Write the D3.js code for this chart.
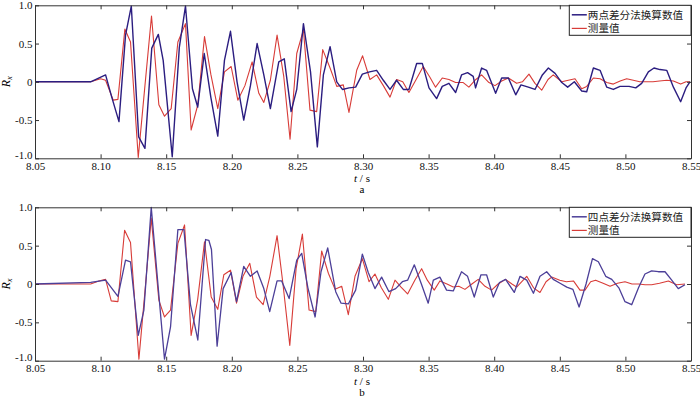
<!DOCTYPE html>
<html><head><meta charset="utf-8">
<script src="https://cdn.jsdelivr.net/npm/d3@7"></script>
<style>body{margin:0;background:#fff}svg{display:block}</style>
</head><body>
<script>
// ---- data ----
const xTicks = [8.05,8.10,8.15,8.20,8.25,8.30,8.35,8.40,8.45,8.50,8.55];
const xTickLabels = ["8.05","8.10","8.15","8.20","8.25","8.30","8.35","8.40","8.45","8.50","8.55"];
const yTicks = [-1,-0.5,0,0.5,1];
const yTickLabels = ["-1.0","-0.5","0","0.5","1.0"];
const legendA = ["两点差分法换算数值","测量值"];
const legendB = ["四点差分法换算数值","测量值"];
const panelLabels = ["a","b"];

// panel a: two-point difference (t, value)
const aCalcT = [8.05,8.0924,8.1038,8.1085,8.114,8.119,8.1234,8.129,8.1338,8.139,8.144,8.1477,8.1546,8.16,8.1647,8.17,8.174,8.179,8.184,8.1893,8.1944,8.199,8.204,8.2091,8.2142,8.2193,8.2244,8.2294,8.2358,8.240,8.2452,8.2495,8.2546,8.26,8.2652,8.2698,8.2749,8.28,8.2843,8.2894,8.2944,8.2995,8.305,8.3104,8.3155,8.3206,8.3256,8.3307,8.335,8.3409,8.3452,8.3503,8.3561,8.3604,8.3655,8.3706,8.3751,8.3797,8.384,8.3858,8.3904,8.3942,8.4011,8.4057,8.4108,8.4164,8.4204,8.426,8.4311,8.4367,8.4413,8.4464,8.4515,8.456,8.4611,8.4667,8.4705,8.4756,8.4807,8.4858,8.4908,8.4959,8.5028,8.5079,8.5124,8.5175,8.5218,8.5264,8.5315,8.5366,8.5421,8.5462,8.5492];
const aCalcV = [0,0,0.09,-0.2,-0.52,0.61,0.99,-0.72,-0.87,0.44,0.62,0.28,-0.98,0.45,0.99,-0.09,-0.33,0.37,-0.2,-0.71,0.28,0.66,0.0,-0.5,-0.05,0.5,0.09,-0.35,0.26,0.3,-0.39,-0.1,0.76,0.13,-0.85,0.09,0.46,0.0,-0.1,-0.08,-0.07,0.1,0.13,0.15,0.02,-0.1,0.02,-0.1,-0.1,0.24,0.24,-0.08,-0.22,-0.06,-0.02,-0.14,0.09,0.12,0.07,-0.08,0.18,0.15,-0.15,0.05,0.05,-0.17,-0.04,-0.07,-0.1,0.09,0.18,0.11,-0.01,-0.07,0.0,-0.12,-0.13,0.18,0.15,-0.07,-0.1,-0.06,-0.06,-0.08,-0.02,0.13,0.18,0.16,0.15,-0.07,-0.26,-0.08,0.0];
const aMeasT = [8.05,8.0924,8.10,8.1038,8.1096,8.1132,8.1185,8.1228,8.1287,8.1338,8.1388,8.1444,8.1487,8.1538,8.1589,8.1647,8.169,8.1741,8.1792,8.184,8.1893,8.1944,8.1995,8.2046,8.21,8.2155,8.2206,8.2244,8.2294,8.2345,8.2396,8.2444,8.2495,8.2546,8.2596,8.2647,8.2693,8.2749,8.28,8.285,8.2893,8.2952,8.2997,8.3053,8.3104,8.3155,8.3206,8.3256,8.3303,8.335,8.3405,8.3459,8.351,8.3553,8.3604,8.3655,8.3706,8.3764,8.3807,8.3853,8.3904,8.396,8.4006,8.4057,8.4108,8.4171,8.4215,8.4265,8.4311,8.4362,8.441,8.445,8.4515,8.4565,8.4616,8.4667,8.4705,8.4756,8.4807,8.4858,8.4908,8.496,8.501,8.506,8.511,8.5162,8.521,8.526,8.5315,8.5366,8.5421,8.5462,8.5492];
const aMeasV = [0,0,0.04,0.02,-0.24,-0.23,0.69,0.52,-0.99,-0.05,0.86,-0.30,-0.45,-0.35,0.52,0.76,-0.63,-0.3,0.59,0.1,-0.35,0.13,0.2,-0.24,-0.05,0.26,-0.15,-0.27,0.02,0.61,0.07,-0.75,0.37,0.68,-0.37,-0.39,0.42,0.18,-0.06,-0.04,-0.4,0.15,0.34,0.03,0.09,-0.05,-0.2,0.03,0.0,-0.14,0.03,0.2,0.06,-0.07,0.05,0.03,-0.01,-0.01,-0.07,0.02,0.09,-0.01,-0.05,0.01,0.05,-0.02,0.0,0.1,-0.02,-0.11,0.03,0.09,0.0,0.02,0.04,-0.09,-0.06,0.05,0.04,-0.01,-0.03,0.01,0.04,0.02,0.0,0.0,0.0,0.01,0.02,0.01,-0.03,0.0,0.0];

// panel b: four-point difference (t, value)
const bCalcT = [8.05,8.0924,8.1038,8.1132,8.119,8.1228,8.1287,8.133,8.1386,8.1444,8.1487,8.1533,8.1589,8.1635,8.1685,8.1741,8.18,8.1825,8.1845,8.1888,8.1934,8.1995,8.2036,8.2091,8.2142,8.2193,8.2244,8.2289,8.2345,8.238,8.2437,8.2495,8.2533,8.258,8.2635,8.268,8.2731,8.2792,8.2833,8.2888,8.2944,8.2995,8.304,8.3091,8.3142,8.3198,8.3249,8.33,8.334,8.3391,8.3445,8.3497,8.3536,8.3586,8.3637,8.3688,8.3751,8.3797,8.3848,8.3899,8.3942,8.3993,8.404,8.4087,8.4153,8.4197,8.4248,8.4299,8.4349,8.44,8.445,8.4502,8.4553,8.46,8.4647,8.47,8.4749,8.4794,8.485,8.4896,8.495,8.4997,8.5048,8.51,8.5149,8.52,8.5251,8.5302,8.5353,8.5403,8.5454];
const bCalcV = [0,0.02,0.05,-0.16,0.31,0.29,-0.67,-0.34,1.0,-0.14,-0.98,-0.56,0.71,0.71,-0.27,-0.73,0.58,0.57,0.45,-0.81,-0.06,0.15,-0.23,0.23,0.1,0.17,-0.06,-0.36,0.04,0.04,-0.19,0.31,0.4,-0.05,-0.43,0.16,0.47,-0.1,-0.25,-0.26,-0.08,0.39,0.15,-0.06,0.09,-0.1,-0.06,0.03,0.05,0.25,0.0,-0.25,0.05,0.09,-0.08,-0.09,0.16,0.1,-0.17,0.12,0.12,-0.17,0.02,0.06,-0.11,0.1,0.05,-0.12,0.1,0.16,0.06,0.01,-0.04,-0.07,-0.3,0.0,0.33,0.29,0.1,0.06,-0.05,-0.23,-0.27,-0.05,0.13,0.17,0.16,0.16,0.05,-0.06,-0.01];
const bMeasT = [8.05,8.0924,8.0987,8.1038,8.1081,8.1132,8.1183,8.1228,8.1292,8.1338,8.1386,8.1444,8.1487,8.1533,8.1589,8.164,8.169,8.174,8.1792,8.1843,8.1893,8.1939,8.199,8.2036,8.2085,8.2137,8.2188,8.2239,8.229,8.2345,8.239,8.2442,8.249,8.2538,8.2589,8.264,8.2685,8.2736,8.2787,8.2838,8.2888,8.2939,8.2995,8.3046,8.3091,8.314,8.3193,8.3244,8.329,8.334,8.3395,8.3447,8.349,8.3543,8.3586,8.364,8.3688,8.373,8.3777,8.383,8.3878,8.393,8.398,8.403,8.4087,8.4135,8.4171,8.4248,8.43,8.4349,8.4395,8.4438,8.45,8.455,8.4604,8.4654,8.4692,8.4735,8.4773,8.483,8.4883,8.494,8.4997,8.505,8.51,8.515,8.52,8.526,8.5328,8.5391,8.5454];
const bMeasV = [0,0,0.04,0.06,-0.22,-0.23,0.7,0.54,-0.98,-0.1,0.86,-0.21,-0.43,-0.34,0.53,0.77,-0.67,-0.2,0.55,-0.17,-0.33,0.12,0.18,-0.25,0.1,0.27,-0.17,-0.27,0.1,0.63,0.0,-0.8,0.2,0.65,-0.34,-0.36,0.43,0.14,-0.07,-0.03,-0.4,0.1,0.33,0.03,0.13,-0.05,-0.2,0.05,-0.04,-0.13,0.05,0.2,0.05,-0.08,0.04,0.0,-0.04,-0.03,-0.07,0.0,0.06,-0.03,-0.08,0.0,0.06,0.0,-0.04,0.1,-0.05,-0.11,0.03,0.09,0.05,0.03,0.04,-0.08,-0.08,0.03,0.05,0.01,-0.03,0.01,0.03,0.0,0.0,-0.01,-0.01,0.01,0.04,-0.01,0.0];

// ---- drawing ----
const W = 700, H = 398;
const svg = d3.select("body").append("svg").attr("width", W).attr("height", H);
const serif = "'Liberation Serif','Times New Roman',serif";
const cjk = "'Noto Sans CJK SC','Noto Sans CJK JP',sans-serif";

const panels = [
  {top: 5.3, bottom: 158.3, calcT: aCalcT, calcV: aCalcV, measT: aMeasT, measV: aMeasV, legend: legendA, label: panelLabels[0], blue: "#2b1d80", blueW: 1.4},
  {top: 207.3, bottom: 360.7, calcT: bCalcT, calcV: bCalcV, measT: bMeasT, measV: bMeasV, legend: legendB, label: panelLabels[1], blue: "#4c3f98", blueW: 1.3}
];
const red = "#d83c38";
const left = 35, right = 691;
const x = d3.scaleLinear().domain([8.05, 8.55]).range([left, right]);

panels.forEach(p => {
  const y = d3.scaleLinear().domain([-1, 1]).range([p.bottom, p.top]);
  const g = svg.append("g");

  // lines
  const line = d3.line().x(d => x(d[0])).y(d => y(d[1]));
  const calc = p.calcT.map((t, i) => [t, p.calcV[i]]);
  const meas = p.measT.map((t, i) => [t, p.measV[i]]);
  g.append("path").datum(meas).attr("d", line).attr("fill", "none")
    .attr("stroke", red).attr("stroke-width", 1.1).attr("stroke-linejoin", "round");
  g.append("path").datum(calc).attr("d", line).attr("fill", "none")
    .attr("stroke", p.blue).attr("stroke-width", p.blueW).attr("stroke-linejoin", "round");

  // axes
  const axB = g.append("g").attr("transform", `translate(0,${p.bottom})`)
    .call(d3.axisBottom(x).tickValues(xTicks).tickFormat((d, i) => xTickLabels[i]).tickSizeInner(-4).tickSizeOuter(0).tickPadding(3.5));
  const axT = g.append("g").attr("transform", `translate(0,${p.top})`)
    .call(d3.axisTop(x).tickValues(xTicks).tickFormat("").tickSizeInner(-4).tickSizeOuter(0));
  const axL = g.append("g").attr("transform", `translate(${left},0)`)
    .call(d3.axisLeft(y).tickValues(yTicks).tickFormat((d, i) => yTickLabels[i]).tickSizeInner(-4).tickSizeOuter(0).tickPadding(2.5));
  const axR = g.append("g").attr("transform", `translate(${right},0)`)
    .call(d3.axisRight(y).tickValues(yTicks).tickFormat("").tickSizeInner(-4).tickSizeOuter(0));
  [axB, axT, axL, axR].forEach(a => {
    a.selectAll("path.domain").attr("stroke", "#333").attr("stroke-width", 1);
    a.selectAll("line").attr("stroke", "#333");
    a.selectAll("text").attr("font-family", serif).attr("font-size", 11).attr("fill", "#111");
  });
  // lift the lowest y label a touch so it does not collide with the first x label
  axL.selectAll(".tick").filter(d => d === -1).select("text").attr("y", -3.5);

  // y label R_x
  const yl = g.append("text").attr("transform", `translate(10,${(p.top + p.bottom) / 2}) rotate(-90)`)
    .attr("text-anchor", "middle").attr("font-family", serif).attr("font-size", 12).attr("font-style", "italic");
  yl.append("tspan").text("R");
  yl.append("tspan").attr("font-size", 8.5).attr("dy", 2).text("x");

  // x label
  const xl = g.append("text").attr("x", (left + right) / 2 - 1).attr("y", p.bottom + 23.8)
    .attr("text-anchor", "middle").attr("font-family", serif).attr("font-size", 11);
  xl.append("tspan").attr("font-style", "italic").text("t");
  xl.append("tspan").text(" / s");
  g.append("text").attr("x", (left + right) / 2 - 1).attr("y", p.bottom + 35)
    .attr("text-anchor", "middle").attr("font-family", serif).attr("font-size", 11).text(p.label);

  // legend
  const lx = 569.3, ly = p.top, lw = right - lx, lh = 30;
  g.append("rect").attr("x", lx).attr("y", ly).attr("width", lw).attr("height", lh)
    .attr("fill", "#fff").attr("stroke", "#222").attr("stroke-width", 1);
  const entries = [{name: p.legend[0], color: p.blue, w: 1.5}, {name: p.legend[1], color: red, w: 1.2}];
  entries.forEach((e, i) => {
    const yy = ly + 9.5 + i * 13.6;
    g.append("line").attr("x1", lx + 2.5).attr("x2", lx + 17.5).attr("y1", yy).attr("y2", yy)
      .attr("stroke", e.color).attr("stroke-width", e.w);
    g.append("text").attr("x", lx + 18.5).attr("y", yy + 3.8).attr("font-family", cjk)
      .attr("font-size", 10.6).attr("fill", "#222").text(e.name);
  });
});
</script>
</body></html>
